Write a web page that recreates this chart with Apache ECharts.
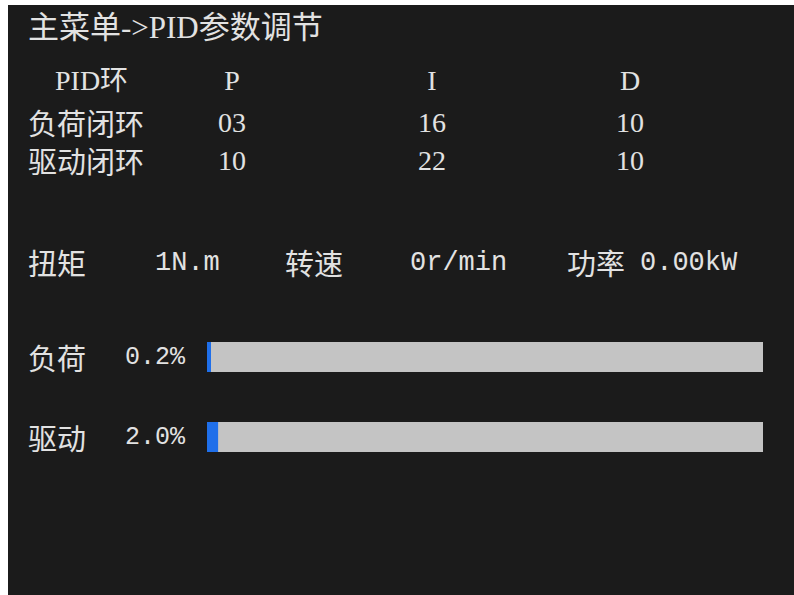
<!DOCTYPE html>
<html>
<head>
<meta charset="utf-8">
<script src="https://cdn.jsdelivr.net/npm/echarts@6/dist/echarts.min.js"></script>
<style>
html,body{margin:0;padding:0;background:#fff;}
#c{width:794px;height:595px;}
</style>
</head>
<body>
<div id="c"></div>
<script>
// ---- data ----
const titleText = '主菜单->PID参数调节';
const pidHeaders = ['PID环', 'P', 'I', 'D'];
const loopNames = ['负荷闭环', '驱动闭环'];
const pValues = ['03', '10'];
const iValues = ['16', '22'];
const dValues = ['10', '10'];
const statusLabels = ['扭矩', '转速', '功率'];
const statusValues = ['1N.m', '0r/min', '0.00kW'];
const barCategories = ['负荷', '驱动'];
const barValues = [0.2, 2.0];

// ---- layout / style ----
const FG = '#e2e2e2';
const CJK = "'Noto Sans CJK SC', sans-serif";
const SERIF = "'Liberation Serif', 'Noto Sans CJK SC', serif";
const MONO = "'Liberation Mono', monospace";

const colX = [232, 432, 630];
const rowY = [122, 160];
const headerY = 80;

const g = [];
// white photo strips
g.push({type: 'rect', shape: {x: 0, y: 0, width: 794, height: 5}, style: {fill: '#ffffff'}});
g.push({type: 'rect', shape: {x: 0, y: 0, width: 8, height: 595}, style: {fill: '#ffffff'}});

function txt(t, x, y, size, font, align) {
  g.push({type: 'text', x: x, y: y, style: {text: t, fill: FG, font: size + 'px ' + font, textAlign: align || 'left', textVerticalAlign: 'middle'}});
}
txt(titleText, 28, 27, 31, SERIF);
txt(pidHeaders[0], 55, headerY, 28, SERIF);
for (let k = 1; k < 4; k++) txt(pidHeaders[k], colX[k - 1], headerY, 28, SERIF, 'center');
const cols = [pValues, iValues, dValues];
for (let r = 0; r < loopNames.length; r++) {
  txt(loopNames[r], 28, rowY[r], 29, CJK);
  for (let c = 0; c < 3; c++) txt(cols[c][r], colX[c], rowY[r], 28, SERIF, 'center');
}
const statusLabelX = [28, 285, 567];
const statusValueX = [155, 410, 640];
for (let k = 0; k < statusLabels.length; k++) {
  txt(statusLabels[k], statusLabelX[k], 262, 29, CJK);
  txt(statusValues[k], statusValueX[k], 263, 27, MONO);
}

const chart = echarts.init(document.getElementById('c'), null, {renderer: 'svg'});
chart.setOption({
  backgroundColor: '#1b1b1b',
  animation: false,
  graphic: g,
  grid: {left: 207, right: 31, top: 317, bottom: 118},
  xAxis: {type: 'value', min: 0, max: 100, show: false},
  yAxis: {
    type: 'category', inverse: true, data: barCategories,
    axisLine: {show: false}, axisTick: {show: false}, splitLine: {show: false},
    axisLabel: {
      align: 'left', margin: 179,
      formatter: function (v, i) { return '{a|' + v + '}{b|' + barValues[i].toFixed(1) + '%}'; },
      rich: {
        a: {fontSize: 29, fontFamily: CJK, color: FG, width: 97},
        b: {fontSize: 25, fontFamily: MONO, color: FG}
      }
    }
  },
  series: [{
    type: 'bar', data: barValues, barWidth: 30, barMinHeight: 4,
    itemStyle: {color: '#1f6fea'},
    showBackground: true,
    backgroundStyle: {color: '#c4c4c4'}
  }]
});
</script>
</body>
</html>
